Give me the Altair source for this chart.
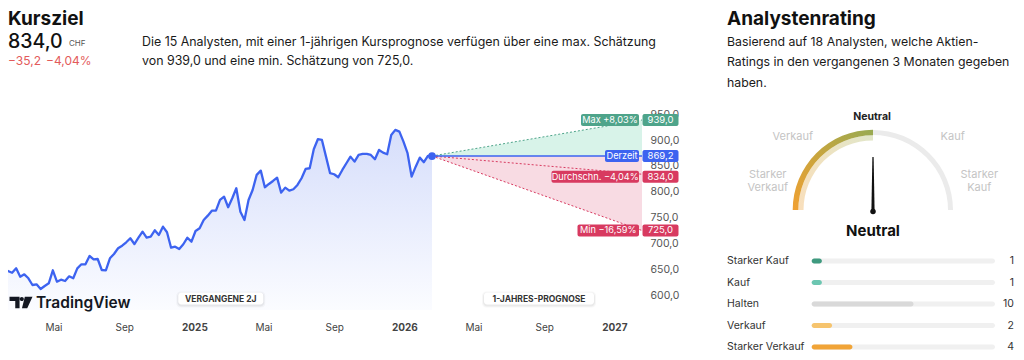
import altair as alt
import pandas as pd

FONT = "Inter"

# ---------------- data ----------------
price_values = [
    646.5, 643.2, 651.7, 635.5, 640.1, 632.4, 619.4, 620.7, 611.6, 617.4,
    622.7, 647.9, 625.8, 629.7, 627.1, 636.2, 632.4, 651.7, 659.5, 659.5,
    675.6, 669.2, 669.8, 648.5, 647.9, 671.1, 679.5,
    690.5, 695.5, 702.1, 709.9, 698.8, 711.0, 722.7, 711.0, 713.0, 725.4,
    716.3, 732.4, 721.5, 691.7, 693.6, 689.1, 698.3, 711.0, 703.3, 724.0,
    729.3, 745.3, 753.7,
    763.4, 763.4, 784.1, 790.5, 770.0, 787.4, 806.8, 761.4, 745.3, 784.1,
    803.5, 832.6, 840.9, 808.7, 815.1, 820.9, 827.3, 798.3, 808.0, 802.1,
    804.8, 813.2, 826.2, 844.2, 845.5, 882.4, 901.7, 900.4,
    868.0, 835.9, 833.9, 828.1, 842.2, 855.2, 868.0, 858.3, 871.3, 873.3,
    873.3, 871.3, 863.0, 881.0, 875.8, 872.7, 910.0, 919.8, 916.5, 897.1,
    874.6, 829.3, 848.6, 866.1, 857.2, 869.4, 869.2,
]
price_first_date = "2024-02-12"
price_last_date = "2026-02-18"
forecast_end_date = "2027-02-18"

current_price = 869.2
target_names = ["Max", "Durchschn.", "Min"]
target_values = [939.0, 834.0, 725.0]
tag_names = ["Max +8,03%", "Derzeit", "Durchschn. \u22124,04%", "Min \u221216,59%"]
tag_values = [939.0, 869.2, 834.0, 725.0]

y_ticks = [600, 650, 700, 750, 800, 850, 900, 950]
x_ticks = [(2024, 5), (2024, 9), (2025, 1), (2025, 5), (2025, 9),
           (2026, 1), (2026, 5), (2026, 9), (2027, 1)]

rating_labels = ["Starker Kauf", "Kauf", "Halten", "Verkauf", "Starker Verkauf"]
rating_counts = [1, 1, 10, 2, 4]
rating_colors = ["#3f9a7f", "#6cc6b1", "#d9d9d9", "#f6c46e", "#f1a437"]
total_analysts = 18
gauge_position_deg = 90  # 0 = Starker Verkauf, 180 = Starker Kauf -> Neutral

# ---------------- styles ----------------
BLUE = "#3d63f0"
GREEN = "#4ea48a"
RED = "#d83a60"

one = pd.DataFrame({"k": [0]})


def txt(text, x, y, size=12, weight=400, color="#222", align="left", baseline="alphabetic"):
    return alt.Chart(one).mark_text(
        text=text, font=FONT, fontSize=size, fontWeight=weight, color=color,
        align=align, baseline=baseline
    ).encode(x=alt.value(x), y=alt.value(y))


# ---------------- price panel ----------------
now = pd.Timestamp(price_last_date)
end = pd.Timestamp(forecast_end_date)
dates = pd.date_range(price_first_date, price_last_date, periods=len(price_values))
df_price = pd.DataFrame({"date": dates, "value": price_values})

X_SCALE = alt.Scale(domain=[alt.DateTime(year=2024, month=2, date=12),
                            alt.DateTime(year=2027, month=2, date=18)], nice=False)
Y_SCALE = alt.Scale(domain=[571, 968], zero=False, nice=False)

x_axis = alt.Axis(
    values=[alt.DateTime(year=y, month=m, date=1) for y, m in x_ticks],
    labelExpr="month(datum.value) == 0 ? timeFormat(datum.value, '%Y') : (month(datum.value) == 4 ? 'Mai' : 'Sep')",
    labelFontWeight={"condition": {"test": "month(datum.value) == 0", "value": 700}, "value": 400},
    title=None, grid=False, domain=False, ticks=False, tickSize=0, labelPadding=12,
    labelFont=FONT, labelFontSize=10, labelColor="#444", labelAngle=0,
    labelFlush=False, labelOverlap=False,
)
y_axis = alt.Axis(
    orient="right", values=y_ticks,
    labelExpr="replace(format(datum.value, '.1f'), '.', ',')",
    title=None, grid=False, domain=False, ticks=False, tickSize=0, labelPadding=8,
    labelFont=FONT, labelFontSize=10.5, labelColor="#555", labelFlush=False,
)
X = alt.X("date:T", scale=X_SCALE, axis=x_axis)
Y = alt.Y("value:Q", scale=Y_SCALE, axis=y_axis)

area = alt.Chart(df_price).mark_area(
    color=alt.Gradient(gradient="linear",
                       stops=[alt.GradientStop(color="#d6defb", offset=0),
                              alt.GradientStop(color="#fbfcff", offset=1)],
                       x1=1, x2=1, y1=0, y2=1)
).encode(x=X, y=Y, y2=alt.datum(571))

line = alt.Chart(df_price).mark_line(
    color=BLUE, strokeWidth=2.3, strokeJoin="round", strokeCap="round"
).encode(x=X, y=Y)

df_up = pd.DataFrame({"date": [now, end], "value": [current_price, target_values[0]],
                      "value2": [current_price, current_price]})
df_down = pd.DataFrame({"date": [now, end], "value": [current_price, current_price],
                        "value2": [current_price, target_values[2]]})
cone_up = alt.Chart(df_up).mark_area(color="#d8f3e9").encode(x=X, y=Y, y2="value2:Q")
cone_down = alt.Chart(df_down).mark_area(color="#f8dbe3").encode(x=X, y=Y, y2="value2:Q")

rows = []
for n, v in zip(target_names, target_values):
    rows.append({"name": n, "date": now, "value": current_price})
    rows.append({"name": n, "date": end, "value": v})
df_dots = pd.DataFrame(rows)
dots_green = alt.Chart(df_dots[df_dots.name == "Max"]).mark_line(
    color=GREEN, strokeWidth=1, strokeDash=[2, 2]).encode(x=X, y=Y)
dots_red = alt.Chart(df_dots[df_dots.name != "Max"]).mark_line(
    color=RED, strokeWidth=1, strokeDash=[2, 2]).encode(x=X, y=Y, detail="name:N")

df_now = pd.DataFrame({"date": [now, end], "value": [current_price, current_price]})
now_line = alt.Chart(df_now).mark_line(color=BLUE, strokeWidth=1.5).encode(x=X, y=Y)
now_dot = alt.Chart(df_now.iloc[:1]).mark_circle(size=60, color=BLUE, opacity=1).encode(x=X, y=Y)


def tag(name_text, value, color, width, dy=0):
    df = pd.DataFrame({"date": [end], "value": [value], "name": [name_text],
                       "val": [f"{value:.1f}".replace(".", ",")]})
    base = alt.Chart(df).encode(x=X, y=Y)
    r1 = base.mark_rect(color=color, cornerRadius=2, xOffset=-(width + 3), x2Offset=-3,
                        yOffset=dy - 6, y2Offset=dy + 6).encode(x2="date:T", y2="value:Q")
    t1 = base.mark_text(color="white", font=FONT, fontSize=9.2, dx=-(width / 2 + 3), dy=dy,
                        align="center", baseline="middle").encode(text="name:N")
    r2 = base.mark_rect(color=color, cornerRadius=2, xOffset=0.5, x2Offset=36.5,
                        yOffset=dy - 6, y2Offset=dy + 6).encode(x2="date:T", y2="value:Q")
    t2 = base.mark_text(color="white", font=FONT, fontSize=9.5, dx=18.5, dy=dy,
                        align="center", baseline="middle").encode(text="val:N")
    return [r1, t1, r2, t2]


tags = []
tags += tag(tag_names[0], tag_values[0], GREEN, 58)
tags += tag(tag_names[1], tag_values[1], BLUE, 34)
tags += tag(tag_names[2], tag_values[2], RED, 87.5, dy=2.5)
tags += tag(tag_names[3], tag_values[3], RED, 61.5)

price = alt.layer(area, line, cone_up, cone_down, dots_green, dots_red,
                  now_line, now_dot, *tags)

# ---------------- overlays on price panel ----------------
LOGO = ("M-1,-0.5 L-0.125,-0.5 L-0.125,0.5 L-0.5,0.5 L-0.5,-0.125 L-1,-0.125 Z "
        "M0.25,-0.3 A0.18,0.18 0 1,1 -0.11,-0.3 A0.18,0.18 0 1,1 0.25,-0.3 Z "
        "M0.333,-0.5 L1,-0.5 L0.542,0.5 L0.083,0.5 Z")
logo = alt.Chart(one).mark_point(shape=LOGO, filled=True, size=529, color="#131722",
                                 opacity=1, strokeWidth=0).encode(x=alt.value(13), y=alt.value(197.5))
logo_txt = txt("TradingView", 28, 198, size=15.5, weight=600, color="#131722", baseline="middle")


def pill(text, x0, x1, yc):
    layers = []
    for grow, op in [(2, 0.03), (1, 0.05)]:
        layers.append(alt.Chart(one).mark_rect(color="#000000", opacity=op, cornerRadius=4).encode(
            x=alt.value(x0 - grow), x2=alt.value(x1 + grow),
            y=alt.value(yc - 6 - grow + 1), y2=alt.value(yc + 6 + grow + 1)))
    layers.append(alt.Chart(one).mark_rect(color="white", cornerRadius=3).encode(
        x=alt.value(x0), x2=alt.value(x1), y=alt.value(yc - 6), y2=alt.value(yc + 6)))
    layers.append(txt(text, (x0 + x1) / 2, yc, size=8.5, weight=700, color="#333",
                      align="center", baseline="middle"))
    return layers


pills = pill("VERGANGENE 2J", 170.3, 255.3, 193.5) + pill("1-JAHRES-PROGNOSE", 476, 586, 193.5)

# ---------------- header texts ----------------
headers = [
    txt("Kursziel", 0, -80, size=19, weight=700, color="#111"),
    txt("834,0", 0, -57.5, size=19.5, weight=500, color="#111"),
    txt("CHF", 61, -59, size=8, color="#555"),
    txt("\u221235,2", 0, -40, size=12, color="#e35b5b"),
    txt("\u22124,04%", 38, -40, size=12, color="#e35b5b"),
    txt("Die 15 Analysten, mit einer 1-jährigen Kursprognose verfügen über eine max. Schätzung",
        134, -59, size=12.4, color="#1a1a1a"),
    txt("von 939,0 und eine min. Schätzung von 725,0.", 134, -40.5, size=12.4, color="#1a1a1a"),
    txt("Analystenrating", 719, -80, size=19, weight=700, color="#111"),
    txt("Basierend auf 18 Analysten, welche Aktien-", 719, -59, size=12.3, color="#1a1a1a"),
    txt("Ratings in den vergangenen 3 Monaten gegeben", 719, -39, size=12.3, color="#1a1a1a"),
    txt("haben.", 719, -18.5, size=12.3, color="#1a1a1a"),
]

# ---------------- gauge ----------------
GX, GY = 865, 105
TH = alt.Scale(domain=[0, 180], range=[-1.5708, 1.5708], zero=False, nice=False)
df_track = pd.DataFrame({"start": [gauge_position_deg], "end": [180]})
df_fill = pd.DataFrame({"start": [0], "end": [gauge_position_deg]})
grad_dark = alt.Gradient(gradient="linear",
                         stops=[alt.GradientStop(color="#f0a032", offset=0),
                                alt.GradientStop(color="#c8a53e", offset=0.5),
                                alt.GradientStop(color="#98aa52", offset=1)],
                         x1=0, y1=1, x2=1, y2=0)
grad_light = alt.Gradient(gradient="linear",
                          stops=[alt.GradientStop(color="#f9dfbc", offset=0),
                                 alt.GradientStop(color="#efe2c0", offset=0.5),
                                 alt.GradientStop(color="#e1e6c9", offset=1)],
                          x1=0, y1=1, x2=1, y2=0)
g_enc = dict(theta=alt.Theta("start:Q", scale=TH), theta2="end:Q",
             x=alt.value(GX), y=alt.value(GY))
g_track = alt.Chart(df_track).mark_arc(radius=80, radius2=75, color="#ebebeb").encode(**g_enc)
g_light = alt.Chart(df_fill).mark_arc(radius=74.7, radius2=69.5, color=grad_light).encode(**g_enc)
g_dark = alt.Chart(df_fill).mark_arc(radius=80.3, radius2=74.7, color=grad_dark).encode(**g_enc)

NEEDLE = "M-0.03,0.02 L-0.012,-1 L0.012,-1 L0.03,0.02 Z"
df_needle = pd.DataFrame({"rot": [gauge_position_deg - 90]})
needle = alt.Chart(df_needle).mark_point(shape=NEEDLE, filled=True, size=11236, color="#111",
                                         opacity=1, strokeWidth=0).encode(
    x=alt.value(GX), y=alt.value(GY), angle=alt.Angle("rot:Q", scale=None))
needle_dot = alt.Chart(one).mark_circle(size=30, color="#111", opacity=1).encode(
    x=alt.value(GX), y=alt.value(GY + 1.5))

GL = "#c4c4c4"
gauge_texts = [
    txt("Neutral", 864, 11.5, size=10.5, weight=700, color="#222", align="center", baseline="middle"),
    txt("Verkauf", 784.7, 31.7, size=11, color=GL, align="center", baseline="middle"),
    txt("Kauf", 944.7, 31.7, size=11, color=GL, align="center", baseline="middle"),
    txt("Starker", 759.7, 70, size=11, color=GL, align="center", baseline="middle"),
    txt("Verkauf", 759.7, 83.3, size=11, color=GL, align="center", baseline="middle"),
    txt("Starker", 971.3, 70, size=11, color=GL, align="center", baseline="middle"),
    txt("Kauf", 971.3, 83.3, size=11, color=GL, align="center", baseline="middle"),
    txt("Neutral", 865, 125.7, size=15, weight=700, color="#111", align="center", baseline="middle"),
]
gauge = alt.layer(g_track, g_light, g_dark, needle, needle_dot)

# ---------------- rating bars ----------------
df_bars = pd.DataFrame({"label": rating_labels, "count": rating_counts,
                        "color": rating_colors, "idx": list(range(len(rating_labels))),
                        "total": [total_analysts] * len(rating_labels)})
BX = alt.Scale(domain=[0, total_analysts], range=[803.7, 987], zero=False, nice=False)
BY = alt.Scale(domain=[0, 4], range=[156, 242], zero=False, nice=False)
bbase = alt.Chart(df_bars).transform_calculate(zero="0")
b_track = bbase.mark_rect(color="#f0f0f0", cornerRadius=2.5, yOffset=-2.5, y2Offset=2.5).encode(
    x=alt.X("zero:Q", scale=BX, axis=None), x2="total:Q",
    y=alt.Y("idx:Q", scale=BY, axis=None), y2="idx:Q")
b_bar = bbase.mark_rect(cornerRadius=2.5, yOffset=-2.5, y2Offset=2.5).encode(
    x=alt.X("zero:Q", scale=BX, axis=None), x2="count:Q",
    y=alt.Y("idx:Q", scale=BY, axis=None), y2="idx:Q",
    color=alt.Color("color:N", scale=None))
b_lab = bbase.mark_text(font=FONT, fontSize=10.5, color="#333", align="left", baseline="middle").encode(
    x=alt.value(719), y=alt.Y("idx:Q", scale=BY, axis=None), text="label:N")
b_val = bbase.mark_text(font=FONT, fontSize=10.5, color="#333", align="right", baseline="middle").encode(
    x=alt.value(1006), y=alt.Y("idx:Q", scale=BY, axis=None), text="count:Q")
bars = alt.layer(b_track, b_bar, b_lab, b_val)

overlay = alt.layer(logo, logo_txt, *pills, *headers, *gauge_texts)

chart = alt.layer(price, bars, gauge, overlay).resolve_scale(
    x="independent", y="independent"
).properties(
    width=634, height=205,
    padding={"left": 0, "top": 97, "right": 374, "bottom": 42},
    autosize=alt.AutoSizeParams(type="none"),
    background="white",
).configure_view(stroke=None)

chart.save("out.html", embed_options={"renderer": "svg", "actions": False})
